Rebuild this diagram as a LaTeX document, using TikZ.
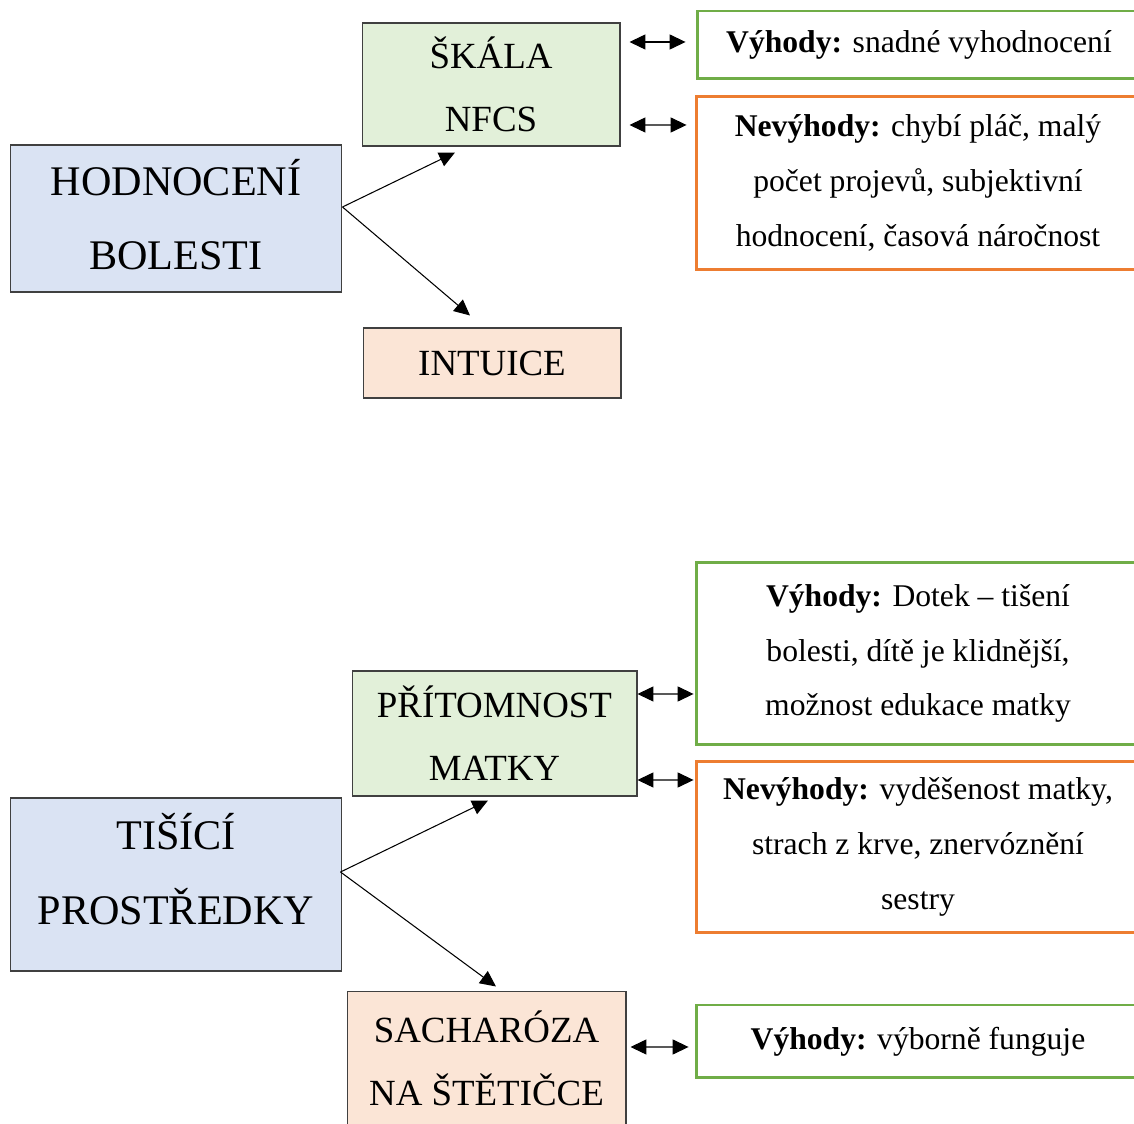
\documentclass[tikz,border=0pt]{standalone}
\usepackage{fontspec}
\setmainfont{Liberation Serif}
\usetikzlibrary{arrows.meta, positioning, calc}
\definecolor{boxblue}{RGB}{218,227,243}
\definecolor{boxgreen}{RGB}{226,240,217}
\definecolor{boxpeach}{RGB}{251,229,214}
\definecolor{progreen}{RGB}{112,173,71}
\definecolor{conorange}{RGB}{237,125,49}
\definecolor{boxline}{RGB}{64,64,64}

\tikzset{
  mainbox/.style={draw=boxline, fill=boxblue, line width=0.6pt, inner sep=0pt, align=center,
    minimum width=6.64cm, font=\fontsize{24}{42.5}\selectfont},
  methodbox/.style={draw=boxline, line width=0.6pt, inner sep=0pt, align=center,
    font=\fontsize{21}{36}\selectfont},
  probox/.style={draw=progreen, line width=1.7pt, inner sep=0pt, align=center,
    minimum width=8.88cm, font=\fontsize{18}{31.2}\selectfont},
  conbox/.style={probox, draw=conorange},
  pointer/.style={-{Triangle[length=9pt,width=8.5pt]}, line width=0.6pt},
  bothway/.style={{Triangle[length=9pt,width=8.5pt]}-{Triangle[length=9pt,width=8.5pt]}, line width=0.6pt}
}

\begin{document}
\begin{tikzpicture}[x=0.02cm, y=-0.02cm]
\clip (0,0) rectangle (1134,1124);
\fill[white] (0,0) rectangle (1134,1124);

% hodnoceni bolesti
\node[mainbox, minimum height=2.94cm, text depth=4.5pt] (hod) at (176,218.5) {HODNOCENÍ\\BOLESTI};
\node[methodbox, fill=boxgreen, minimum width=5.16cm, minimum height=2.46cm] (skala) at (491,84.5) {ŠKÁLA\\NFCS};
\node[methodbox, fill=boxpeach, minimum width=5.16cm, minimum height=1.4cm] (intuice) at (492,363) {INTUICE};
\node[probox, minimum height=1.36cm] (vyh1) at (919,45) {\textbf{Výhody:} snadné vyhodnocení};
\node[conbox, minimum height=3.46cm] (nev1) at (918,183) {\textbf{Nevýhody:} chybí pláč, malý\\počet projevů, subjektivní\\hodnocení, časová náročnost};

\draw[pointer] ($(hod.east)+(0,-11.5)$) -- ($(skala.south)+(-36,6)$);
\draw[pointer] ($(hod.east)+(0,-11.5)$) -- ($(intuice.north)+(-22,-12)$);
\draw[bothway] ($(skala.east)+(9,-42.5)$) -- ($(vyh1.west)+(-10,-3)$);
\draw[bothway] ($(skala.east)+(9,40.5)$) -- ($(nev1.west)+(-8,-58)$);

% tisici prostredky
\node[mainbox, minimum height=3.46cm, text depth=18pt] (tis) at (176,884.5) {TIŠÍCÍ\\PROSTŘEDKY};
\node[methodbox, fill=boxgreen, minimum width=5.7cm, minimum height=2.5cm] (prit) at (494.5,733.5) {PŘÍTOMNOST\\MATKY};
\node[methodbox, fill=boxpeach, minimum width=5.58cm, minimum height=2.66cm] (sach) at (486.5,1058) {SACHARÓZA\\NA ŠTĚTIČCE};
\node[probox, minimum height=3.66cm] (vyh2) at (918,653.5) {\textbf{Výhody:} Dotek – tišení\\bolesti, dítě je klidnější,\\možnost edukace matky};
\node[conbox, minimum height=3.44cm] (nev2) at (918,847) {\textbf{Nevýhody:} vyděšenost matky,\\strach z krve, znervóznění\\sestry};
\node[probox, minimum height=1.46cm] (vyh3) at (918,1041.5) {\textbf{Výhody:} výborně funguje};

\draw[pointer] ($(tis.east)+(-2,-12.5)$) -- ($(prit.south)+(-6.5,4)$);
\draw[pointer] ($(tis.east)+(-2,-12.5)$) -- ($(sach.north)+(9.5,-4.5)$);
\draw[bothway] ($(prit.east)+(0,-39.5)$) -- ($(vyh2.west)+(-1,40.5)$);
\draw[bothway] ($(prit.east)+(0,46.5)$) -- ($(nev2.west)+(-1,-67)$);
\draw[bothway] ($(sach.east)+(4,-11)$) -- ($(vyh3.west)+(-6,5.5)$);
\end{tikzpicture}
\end{document}
